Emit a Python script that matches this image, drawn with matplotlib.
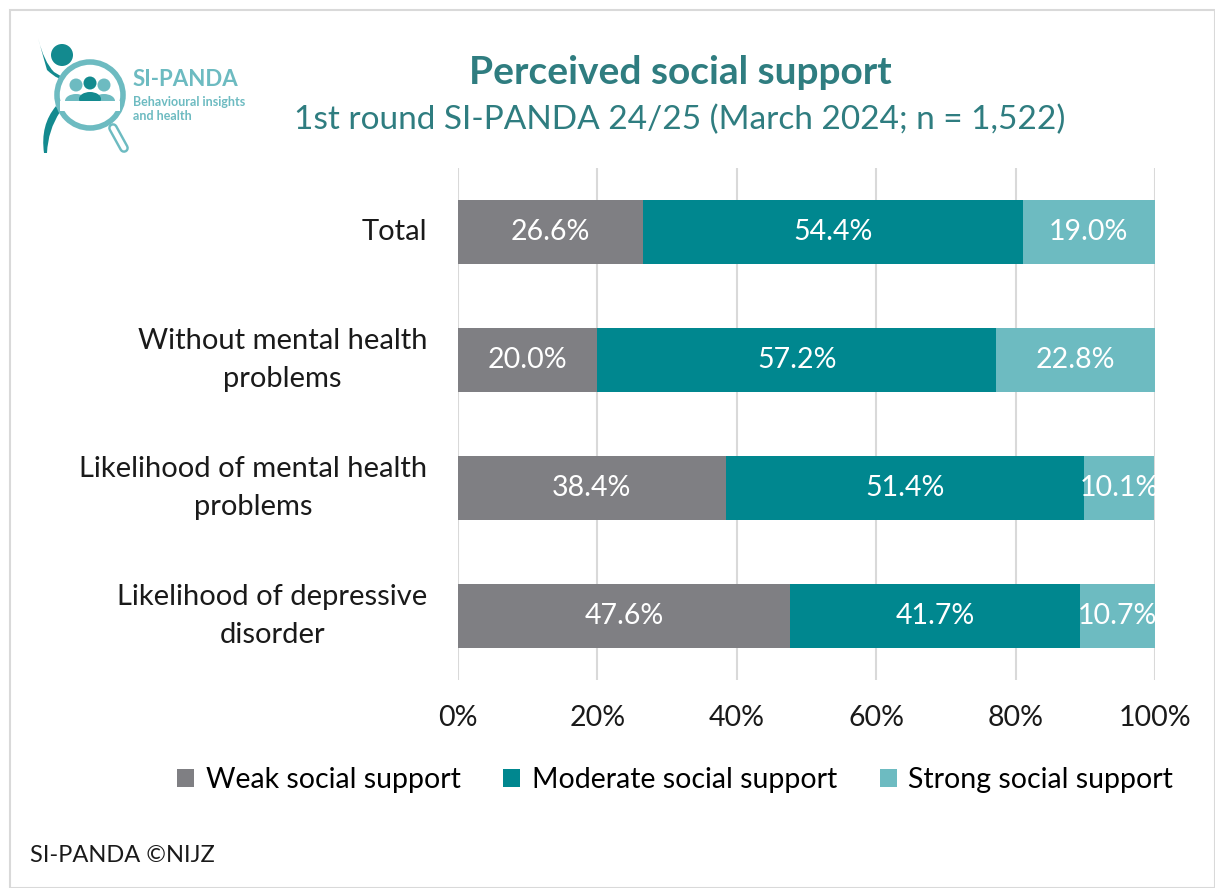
import matplotlib.pyplot as plt
from matplotlib.patches import Circle, Ellipse, Rectangle, PathPatch
from matplotlib.path import Path

plt.rcParams['font.family'] = ['Lato', 'DejaVu Sans']

groups = ["Total", "Without mental health\nproblems",
          "Likelihood of mental health\nproblems", "Likelihood of depressive\ndisorder"]
weak = [26.6, 20.0, 38.4, 47.6]
moderate = [54.4, 57.2, 51.4, 41.7]
strong = [19.0, 22.8, 10.1, 10.7]
series_names = ["Weak social support", "Moderate social support", "Strong social support"]
colors = ["#7f7f83", "#00878f", "#6dbbc1"]
xticks = [0, 20, 40, 60, 80, 100]

W, H = 1215, 888
fig = plt.figure(figsize=(W / 100, H / 100), dpi=100)

# outer frame
fig.patches.append(Rectangle((10 / W, 0), (W - 10) / W, (H - 10) / H, transform=fig.transFigure,
                             fill=False, edgecolor="#d9d9d9", linewidth=1.5))

ax = fig.add_axes([458 / W, 1 - 680 / H, (1155 - 458) / W, 512 / H])
left = [0, 0, 0, 0]
for vals, name, col in zip([weak, moderate, strong], series_names, colors):
    bars = ax.barh(range(len(groups)), vals, left=left, height=0.5, color=col, label=name, zorder=3)
    for b, v, l in zip(bars, vals, left):
        ax.text(l + v / 2, b.get_y() + b.get_height() / 2, f"{v:.1f}%", ha="center", va="center",
                color="white", fontsize=20.5, zorder=4)
    left = [a + b for a, b in zip(left, vals)]

ax.set_ylim(3.5, -0.5)
ax.set_xlim(0, 100)
ax.set_xticks(xticks)
ax.set_xticklabels([f"{t}%" for t in xticks], fontsize=20.5, color="#1a1a1a")
ax.set_yticks(range(len(groups)))
ax.set_yticklabels(groups, fontsize=21, color="#1a1a1a", ha="right", va="center",
                   multialignment="center", linespacing=1.6)
ax.tick_params(axis="y", length=0, pad=22)
ax.tick_params(axis="x", length=0, pad=18)
ax.grid(axis="x", color="#d9d9d9", linewidth=1.5, zorder=0)
for s in ax.spines.values():
    s.set_visible(False)

fig.legend(loc="center", bbox_to_anchor=(675 / W, 1 - 780 / H), ncol=3, frameon=False,
           fontsize=20.5, handlelength=0.6, handleheight=0.6, handletextpad=0.4, columnspacing=1.5)

title_col = "#2f7d80"
fig.text(680 / W, 1 - 72 / H, "Perceived social support", ha="center", va="center",
         fontsize=28, fontweight="bold", color=title_col)
fig.text(680 / W, 1 - 120 / H, "1st round SI-PANDA 24/25 (March 2024; n = 1,522)", ha="center",
         va="center", fontsize=24, color=title_col)
fig.text(30 / W, 1 - 855 / H, "SI-PANDA ©NIJZ", ha="left", va="center", fontsize=17, color="#1a1a1a")

# logo, drawn in pixel coordinates
lg = fig.add_axes([20 / W, 1 - 165 / H, 240 / W, 145 / H])
lg.set_xlim(20, 260)
lg.set_ylim(165, 20)
lg.axis("off")
dark = "#138a8f"
light = "#6dbbc1"
arm = Path([(38, 38), (44, 62), (54, 72), (64, 78), (60, 82), (47, 70), (38, 38)],
           [Path.MOVETO, Path.CURVE3, Path.CURVE3, Path.LINETO, Path.CURVE3, Path.CURVE3, Path.CLOSEPOLY])
lg.add_patch(PathPatch(arm, color=dark, lw=0))
leg = Path([(56, 106), (40, 125), (44, 153), (47, 153), (48, 130), (60, 112), (56, 106)],
           [Path.MOVETO, Path.CURVE3, Path.CURVE3, Path.LINETO, Path.CURVE3, Path.CURVE3, Path.CLOSEPOLY])
lg.add_patch(PathPatch(leg, color=dark, lw=0))
lg.add_patch(Circle((62, 55), 11, color=dark, lw=0))
lg.add_patch(Circle((90, 95), 33, fill=False, edgecolor=light, lw=4))
# magnifier handle
lg.plot([113, 124], [128, 148], color=light, lw=7, solid_capstyle="round")
lg.plot([113, 124], [128, 148], color="white", lw=3.5, solid_capstyle="round")
for cx, cy, c in [(76, 89, light), (104, 89, light), (90, 87, dark)]:
    lg.add_patch(Circle((cx, cy - 4), 6.5, color=c, lw=0))
    lg.add_patch(Ellipse((cx, cy + 12), 22, 14, color=c, lw=0))
lg.add_patch(Rectangle((60, 101), 60, 10, color="white", lw=0))
lg.text(133, 80, "SI-PANDA", fontsize=16, fontweight="bold", color=light, va="center")
lg.text(133, 102, "Behavioural insights", fontsize=9, fontweight="bold", color=light, va="center")
lg.text(133, 116, "and health", fontsize=9, fontweight="bold", color=light, va="center")

fig.savefig("out.png", dpi=100)
